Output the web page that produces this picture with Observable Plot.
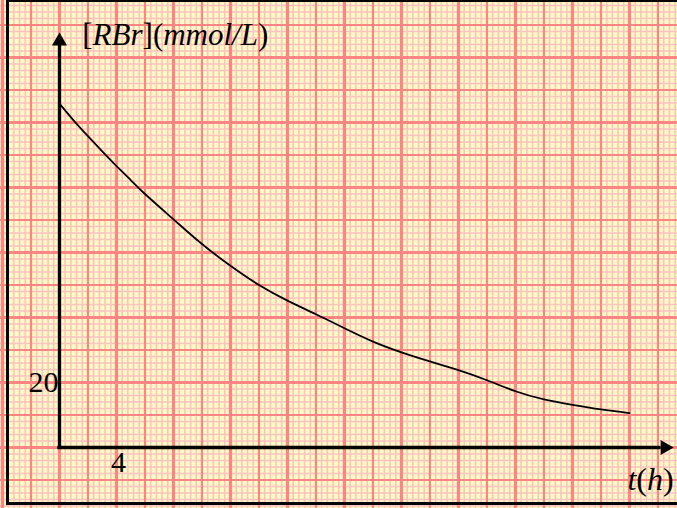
<!DOCTYPE html>
<html><head><meta charset="utf-8">
<script src="https://cdn.jsdelivr.net/npm/d3@7"></script>
<script src="https://cdn.jsdelivr.net/npm/@observablehq/plot@0.6"></script>
<style>
html,body{margin:0;padding:0;background:#fff;}
#wrap{position:relative;width:677px;height:508px;overflow:hidden;}
#wrap svg{display:block;}
.edge{position:absolute;background:#000;}
</style></head><body>
<div id="wrap"></div>
<script>
// Curve values: time (h) and [RBr] (mmol/L)
const timeH = [0, 1, 2, 3, 4, 5, 6, 8, 10, 12, 14, 16, 18, 20, 22, 24, 26, 28, 30, 32, 34, 36, 38, 40];
const concRBr = [105.8, 100.6, 95.8, 91.1, 86.6, 82.3, 78.0, 70.2, 62.6, 55.9, 50.0, 45.2, 41.0, 36.7, 32.6, 29.3, 26.5, 23.8, 20.7, 17.3, 14.8, 13.1, 11.7, 10.6];

// Tick labels shown on the axes
const xTickValues = [4];
const xTickText = ["4"];
const yTickValues = [20];
const yTickText = ["20"];

// Axis titles
const yAxisTitle = "[RBr](mmol/L)";
const xAxisTitle = "t(h)";

// Axis extents (data units)
const xAxisTip = 43.1;
const yAxisTip = 127.7;

const data = timeH.map((t, i) => ({t, c: concRBr[i]}));

const serif = "'Liberation Serif', 'Times New Roman', serif";

// graph-paper lines
const fineX = d3.range(-11, 109).map(i => +(i * 0.4).toFixed(2));
const fineY = d3.range(-10, 70).map(i => i * 2);
const medX = d3.range(-2, 22).map(i => i * 2);
const medY = d3.range(-2, 14).map(i => i * 10);
const thickX = d3.range(-1, 11).map(i => i * 4);
const thickY = d3.range(-1, 7).map(i => i * 20);

const fineCol = "#ffc2c2";
const gridCol = "#ff8484";

const chart = Plot.plot({
  width: 677,
  height: 508,
  margin: 0,
  style: {background: "#fffbc2", overflow: "hidden"},
  x: {domain: [-4.14, 43.37], axis: null},
  y: {domain: [-18.77, 137.54], axis: null},
  marks: [
    Plot.ruleX(fineX, {stroke: fineCol, strokeWidth: 1.6}),
    Plot.ruleY(fineY, {stroke: fineCol, strokeWidth: 1.6}),
    Plot.ruleX(medX, {stroke: gridCol, strokeWidth: 2.2}),
    Plot.ruleY(medY, {stroke: gridCol, strokeWidth: 2.2}),
    Plot.ruleX(thickX, {stroke: gridCol, strokeWidth: 3.2}),
    Plot.ruleY(thickY, {stroke: gridCol, strokeWidth: 3.2}),
    // axes
    Plot.ruleX([0], {y1: 0, y2: yAxisTip - 4, stroke: "black", strokeWidth: 3.3, strokeLinecap: "square"}),
    Plot.ruleY([0], {x1: 0, x2: xAxisTip - 1, stroke: "black", strokeWidth: 3.3, strokeLinecap: "square"}),
    Plot.dot([0], {x: 0, y: yAxisTip, dy: 8.7, symbol: "triangle", r: 5.6, fill: "black", stroke: "none"}),
    Plot.dot([0], {x: xAxisTip, y: 0, dx: -8.7, rotate: 90, symbol: "triangle", r: 5.6, fill: "black", stroke: "none"}),
    // curve
    Plot.line(data, {x: "t", y: "c", curve: "natural", stroke: "black", strokeWidth: 1.8}),
    // tick labels
    Plot.text(yTickValues, {x: 0, y: d => d, text: (d, i) => yTickText[i], textAnchor: "end", lineAnchor: "middle", dx: -1, fontSize: 30, fontFamily: serif, fill: "black"}),
    Plot.text(xTickValues, {x: d => d, y: 0, text: (d, i) => xTickText[i], textAnchor: "middle", lineAnchor: "top", dx: 2, dy: 3, fontSize: 30, fontFamily: serif, fill: "black"}),
    // axis titles
    Plot.text([yAxisTitle], {x: 1.6, y: 124, text: d => d, textAnchor: "start", lineAnchor: "bottom", fontSize: 31, fontFamily: serif, fill: "black"}),
    Plot.text([xAxisTitle], {x: xAxisTip, y: 0, text: d => d, textAnchor: "end", lineAnchor: "bottom", dy: 43, dx: 0, fontSize: 32, fontFamily: serif, fill: "black"})
  ]
});

// mixed italic / upright runs inside the titles
function styleRuns(content, runs) {
  const t = d3.select(chart).selectAll("text").filter(function () { return this.textContent === content; });
  t.text(null);
  for (const r of runs) {
    t.append("tspan").text(r.s).style("font-style", r.it ? "italic" : "normal");
  }
}
styleRuns(yAxisTitle, [
  {s: "[", it: false}, {s: "RBr", it: true}, {s: "](", it: false},
  {s: "mmol/L", it: true}, {s: ")", it: false}
]);
styleRuns(xAxisTitle, [
  {s: "t", it: true}, {s: "(", it: false}, {s: "h", it: true}, {s: ")", it: false}
]);

const wrap = document.getElementById("wrap");
wrap.appendChild(chart);
// black paper frame (left, top, bottom edges)
[["6px","0px","3.4px","505px"],["6px","0px","671px","1.5px"],["6px","501.5px","671px","3.6px"]].forEach(([l,t,w,h]) => {
  const d = document.createElement("div");
  d.className = "edge";
  Object.assign(d.style, {left: l, top: t, width: w, height: h});
  wrap.appendChild(d);
});
</script>
</body></html>
